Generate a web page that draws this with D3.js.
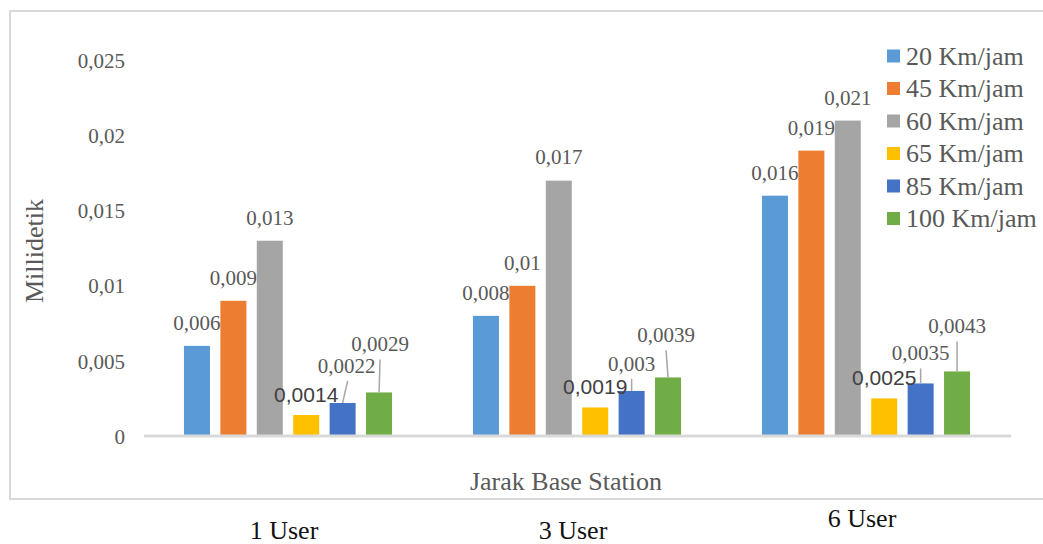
<!DOCTYPE html>
<html>
<head>
<meta charset="utf-8">
<script src="https://cdn.jsdelivr.net/npm/d3@7"></script>
<style>
  html, body { margin: 0; padding: 0; background: #fff; }
  svg { display: block; }
</style>
</head>
<body>
<svg id="chart" width="1043" height="544"></svg>
<script>
// Groups along the x axis
const categories = ["1 User", "3 User", "6 User"];
// Speed series shown in the legend
const seriesNames = ["20 Km/jam", "45 Km/jam", "60 Km/jam", "65 Km/jam", "85 Km/jam", "100 Km/jam"];
// Values per series, one entry per group (milliseconds)
const v20  = [0.006, 0.008, 0.016];
const v45  = [0.009, 0.01,  0.019];
const v60  = [0.013, 0.017, 0.021];
const v65  = [0.0014, 0.0019, 0.0025];
const v85  = [0.0022, 0.003, 0.0035];
const v100 = [0.0029, 0.0039, 0.0043];
const yTicks = [0, 0.005, 0.01, 0.015, 0.02, 0.025];

const seriesValues = [v20, v45, v60, v65, v85, v100];
const colors = ["#5b9bd5", "#ed7d31", "#a5a5a5", "#ffc000", "#4472c4", "#70ad47"];

// Label placement: lift (px) of each value label above its bar, per group/series
const labelLift = [
  [16, 16, 16, 13, 30, 41],
  [16, 16, 17, 13, 20, 35],
  [16, 16, 16, 13, 23, 38]
];
const labelShift = [
  [0, 0, 0, 0, 4, 1],
  [0, 0, 0, 0, 0, -2],
  [0, 0, 0, 0, 0, 0]
];

const svg = d3.select("#chart");
const serif = "'Liberation Serif', 'Times New Roman', serif";

svg.append("rect").attr("width", 1043).attr("height", 544).attr("fill", "#fff");

// Chart frame
svg.append("rect")
  .attr("x", 10).attr("y", 11)
  .attr("width", 1040).attr("height", 488)
  .attr("fill", "none").attr("stroke", "#d9d9d9").attr("stroke-width", 2);

const x0 = d3.scaleBand().domain(categories).range([143.5, 1010.5])
  .paddingInner(0.28).paddingOuter(0.14);
const x1 = d3.scaleBand().domain(seriesNames).range([0, x0.bandwidth()])
  .paddingInner(0.286).paddingOuter(0);
const y = d3.scaleLinear().domain([0, 0.025]).range([436, 60.5]);

const fmt = d => String(d).replace(".", ",");

// Y axis tick labels (no axis line)
const yAxis = d3.axisLeft(y).tickValues(yTicks).tickFormat(fmt).tickSize(0).tickPadding(0);
const yg = svg.append("g").attr("transform", "translate(125,0)").call(yAxis);
yg.select(".domain").remove();
yg.selectAll("text")
  .attr("font-family", serif).attr("font-size", 21).attr("fill", "#595959")
  .attr("dy", "0.34em");

// Bars
const groups = svg.append("g").selectAll("g")
  .data(categories)
  .join("g")
  .attr("transform", d => `translate(${x0(d)},0)`);

groups.selectAll("rect")
  .data((c, gi) => seriesNames.map((s, si) => ({ gi, si, s, v: seriesValues[si][gi] })))
  .join("rect")
  .attr("x", d => x1(d.s))
  .attr("y", d => y(d.v))
  .attr("width", x1.bandwidth())
  .attr("height", d => y(0) - y(d.v))
  .attr("fill", d => colors[d.si]);

// Category baseline
svg.append("line")
  .attr("x1", 144).attr("x2", 1011).attr("y1", y(0)).attr("y2", y(0))
  .attr("stroke", "#d9d9d9").attr("stroke-width", 3);

// Value labels with leader lines where lifted
const labelData = [];
categories.forEach((c, gi) => {
  seriesNames.forEach((s, si) => {
    const v = seriesValues[si][gi];
    const cx = x0(c) + x1(s) + x1.bandwidth() / 2;
    labelData.push({
      gi, si, v, cx,
      lx: cx + labelShift[gi][si],
      ly: y(v) - labelLift[gi][si],
      lead: labelLift[gi][si] > 18
    });
  });
});

svg.append("g").selectAll("line")
  .data(labelData.filter(d => d.lead))
  .join("line")
  .attr("x1", d => d.lx + (d.lx - d.cx > 2 ? 1 : 0))
  .attr("y1", d => d.ly + 8)
  .attr("x2", d => d.cx)
  .attr("y2", d => y(d.v))
  .attr("stroke", "#a6a6a6").attr("stroke-width", 1.5);

svg.append("g").selectAll("text")
  .data(labelData)
  .join("text")
  .attr("x", d => d.lx)
  .attr("y", d => d.ly)
  .attr("text-anchor", "middle")
  .attr("font-family", d => d.si === 3 ? "'Liberation Sans', Arial, sans-serif" : serif)
  .attr("font-size", 21)
  .attr("fill", d => d.si === 3 ? "#404040" : "#595959")
  .text(d => fmt(d.v));

// Legend
const legend = svg.append("g").selectAll("g")
  .data(seriesNames)
  .join("g")
  .attr("transform", (d, i) => `translate(887,${56 + i * 32.5})`);
legend.append("rect")
  .attr("x", 0).attr("y", -6.5).attr("width", 13).attr("height", 13)
  .attr("fill", (d, i) => colors[i]);
legend.append("text")
  .attr("x", 19).attr("y", 0).attr("dy", "0.34em")
  .attr("font-family", serif).attr("font-size", 26).attr("fill", "#595959")
  .text(d => d);

// Axis titles
svg.append("text")
  .attr("transform", "translate(43,251) rotate(-90)")
  .attr("text-anchor", "middle")
  .attr("font-family", serif).attr("font-size", 26).attr("fill", "#595959")
  .text("Millidetik");

svg.append("text")
  .attr("x", 566).attr("y", 490)
  .attr("text-anchor", "middle")
  .attr("font-family", serif).attr("font-size", 26).attr("fill", "#595959")
  .text("Jarak Base Station");

// Group names below the frame
const catBaseline = [539, 539, 527];
svg.append("g").selectAll("text")
  .data(categories)
  .join("text")
  .attr("x", d => x0(d) + x0.bandwidth() / 2 - 4)
  .attr("y", (d, i) => catBaseline[i])
  .attr("text-anchor", "middle")
  .attr("font-family", serif).attr("font-size", 26).attr("fill", "#111")
  .text(d => d);
</script>
</body>
</html>
